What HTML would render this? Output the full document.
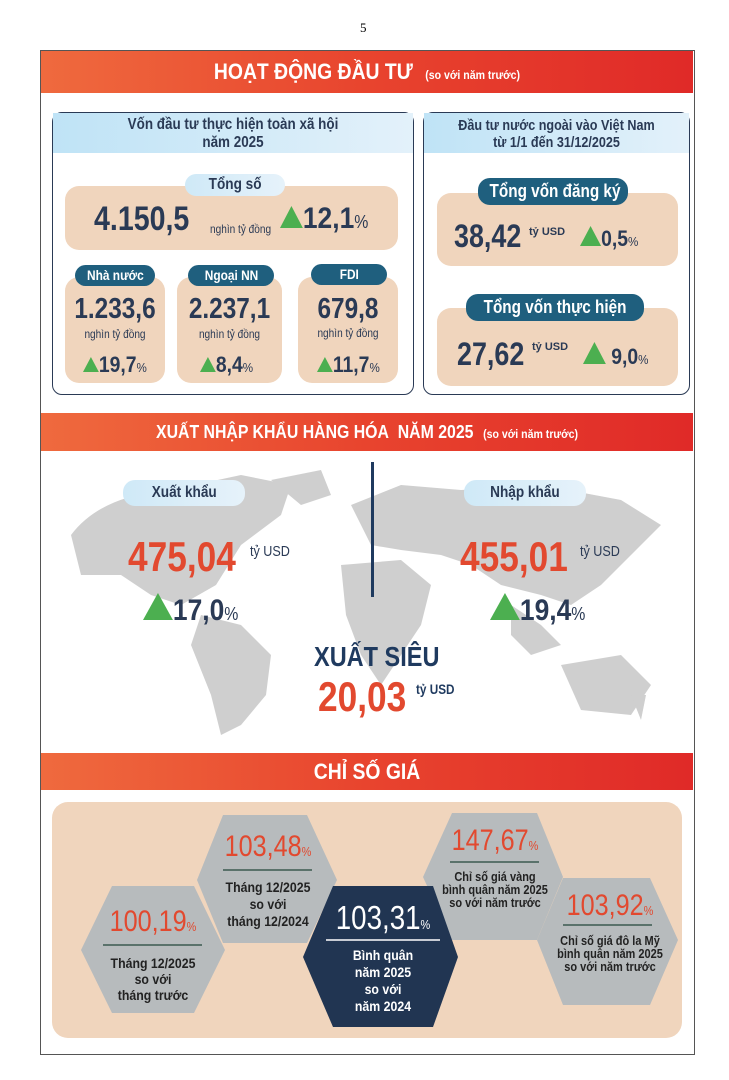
<!DOCTYPE html>
<html><head><meta charset="utf-8"><style>
*{margin:0;padding:0;box-sizing:border-box}
body{width:729px;height:1080px;background:#fff;position:relative;font-family:"Liberation Sans",sans-serif;overflow:hidden}
.a{position:absolute;white-space:nowrap}
.nx{transform:scaleX(.84);transform-origin:left top}
.cx{transform:scaleX(.84);transform-origin:center top}
.ban{position:absolute;left:41px;width:652px;background:linear-gradient(90deg,#ef6a3e,#e8442e 50%,#e02a28);color:#fff;font-weight:bold;text-align:center}
.ban>div{transform:scaleX(.88)}
.tan{position:absolute;background:#f0d5bd;border-radius:14px}
.pill{position:absolute;border-radius:12px;text-align:center;font-weight:bold;white-space:nowrap}
.pill span{display:inline-block;transform:scaleX(.85)}
.navy{background:#1f5f7e;color:#fff}
.lb{background:linear-gradient(90deg,#cfe9f7,#e6f2fa);color:#2a3a55}
.num{position:absolute;color:#2a3a55;font-weight:bold;white-space:nowrap}
.sm{position:absolute;color:#2a3a55;font-size:11px;white-space:nowrap}
.tri{display:inline-block;width:0;height:0;border-left:10px solid transparent;border-right:10px solid transparent;border-bottom:17px solid #4caf50;vertical-align:baseline}
.pct{position:absolute;color:#2a3a55;font-weight:bold;white-space:nowrap;transform:scaleX(.88);transform-origin:left top}
.pct small{font-size:60%;font-weight:normal}
.c{text-align:center}
.rv{position:absolute;color:#e2492f;font-size:30px;line-height:30px;text-align:center;white-space:nowrap;transform:scaleX(.84);transform-origin:center top}
.rv small{font-size:13px}
.lt{position:absolute;color:#222;font-weight:bold;text-align:center;font-size:14px;line-height:17px;white-space:nowrap;transform:scaleX(.88);transform-origin:center top}
.lt2{font-size:12.5px;line-height:13px}
</style></head><body>
<div class="a" style="left:360px;top:20px;font-family:'Liberation Serif',serif;font-size:13px">5</div>
<div class="a" style="left:40px;top:50px;width:655px;height:1005px;border:1.5px solid #555"></div>

<div class="ban" style="top:51px;height:42px;line-height:42px;font-size:22px"><div>HOẠT ĐỘNG ĐẦU TƯ <span style="font-size:12px;margin-left:8px">(so với năm trước)</span></div></div>

<div class="a" style="left:52px;top:112px;width:362px;height:283px;border:1.5px solid #2a3a55;border-radius:10px"></div>
<div class="a lb c" style="left:53px;top:113px;width:360px;height:40px;font-size:16px;line-height:18px;padding-top:3px;font-weight:bold;background:linear-gradient(90deg,#bfe3f6,#e3f1fa)"><div class="cx">Vốn đầu tư thực hiện toàn xã hội<br>năm 2025</div></div>
<div class="tan" style="left:65px;top:186px;width:333px;height:64px"></div>
<div class="pill lb" style="left:185px;top:174px;width:100px;height:22px;line-height:22px;font-size:16px"><span>Tổng số</span></div>
<div class="num nx" style="left:94px;top:200px;font-size:34px">4.150,5</div>
<div class="sm nx" style="left:210px;top:222px;font-size:12px">nghìn tỷ đồng</div>
<div class="pct" style="left:280px;top:202px;font-size:30px"><span class="tri" style="border-left-width:13px;border-right-width:13px;border-bottom-width:22px"></span>12,1<small>%</small></div>

<div class="tan" style="left:65px;top:277px;width:100px;height:106px"></div>
<div class="tan" style="left:177px;top:277px;width:105px;height:106px"></div>
<div class="tan" style="left:298px;top:277px;width:100px;height:106px"></div>
<div class="pill navy" style="left:75px;top:265px;width:80px;height:21px;line-height:21px;font-size:14px"><span>Nhà nước</span></div>
<div class="pill navy" style="left:188px;top:265px;width:86px;height:21px;line-height:21px;font-size:14px"><span>Ngoại NN</span></div>
<div class="pill navy" style="left:311px;top:264px;width:76px;height:21px;line-height:21px;font-size:14px"><span>FDI</span></div>
<div class="num c cx" style="left:65px;top:293px;width:100px;font-size:29px">1.233,6</div>
<div class="num c cx" style="left:177px;top:293px;width:105px;font-size:29px">2.237,1</div>
<div class="num c cx" style="left:298px;top:293px;width:100px;font-size:29px">679,8</div>
<div class="sm c cx" style="left:65px;top:327px;width:100px;font-size:12px">nghìn tỷ đồng</div>
<div class="sm c cx" style="left:177px;top:327px;width:105px;font-size:12px">nghìn tỷ đồng</div>
<div class="sm c cx" style="left:298px;top:326px;width:100px;font-size:12px">nghìn tỷ đồng</div>
<div class="pct" style="left:83px;top:352px;font-size:22px"><span class="tri" style="border-bottom-width:15px;border-left-width:9px;border-right-width:9px"></span>19,7<small>%</small></div>
<div class="pct" style="left:200px;top:352px;font-size:22px"><span class="tri" style="border-bottom-width:15px;border-left-width:9px;border-right-width:9px"></span>8,4<small>%</small></div>
<div class="pct" style="left:317px;top:352px;font-size:22px"><span class="tri" style="border-bottom-width:15px;border-left-width:9px;border-right-width:9px"></span>11,7<small>%</small></div>

<div class="a" style="left:423px;top:112px;width:267px;height:283px;border:1.5px solid #2a3a55;border-radius:10px"></div>
<div class="a lb c" style="left:424px;top:113px;width:265px;height:40px;font-size:15px;line-height:17px;padding-top:4px;font-weight:bold;background:linear-gradient(90deg,#bfe3f6,#e3f1fa)"><div class="cx">Đầu tư nước ngoài vào Việt Nam<br>từ 1/1 đến 31/12/2025</div></div>
<div class="tan" style="left:437px;top:193px;width:241px;height:73px"></div>
<div class="pill navy" style="left:478px;top:178px;width:150px;height:27px;line-height:27px;font-size:18px"><span>Tổng vốn đăng ký</span></div>
<div class="num nx" style="left:454px;top:218px;font-size:32px">38,42</div>
<div class="a" style="left:529px;top:226px;font-size:11px;font-weight:bold;color:#2a3a55">tỷ USD</div>
<div class="pct" style="left:580px;top:226px;font-size:22px"><span class="tri" style="border-bottom-width:20px;border-left-width:12px;border-right-width:12px"></span>0,5<small>%</small></div>
<div class="tan" style="left:437px;top:308px;width:241px;height:78px"></div>
<div class="pill navy" style="left:466px;top:294px;width:178px;height:27px;line-height:27px;font-size:18px"><span>Tổng vốn thực hiện</span></div>
<div class="num nx" style="left:457px;top:336px;font-size:32px">27,62</div>
<div class="a" style="left:532px;top:341px;font-size:11px;font-weight:bold;color:#2a3a55">tỷ USD</div>
<div class="pct" style="left:583px;top:342px;font-size:22px"><span class="tri" style="border-bottom-width:22px;border-left-width:13px;border-right-width:13px"></span> 9,0<small>%</small></div>

<div class="ban" style="top:413px;height:38px;line-height:38px;font-size:18px"><div>XUẤT NHẬP KHẨU HÀNG HÓA&nbsp; NĂM 2025 <span style="font-size:12px;margin-left:6px">(so với năm trước)</span></div></div>
<svg class="a" style="left:41px;top:455px" width="652" height="290">
<g fill="#cfcfcf">
<path d="M30 80 Q60 40 130 35 L200 20 L250 30 L240 60 L200 90 L175 130 L140 150 L110 140 L80 120 L40 120 Z"/>
<path d="M160 160 L200 170 L230 200 L225 240 L200 270 L180 280 L170 240 L150 190 Z"/>
<path d="M230 25 L280 15 L290 40 L260 50 Z"/>
<path d="M310 50 L360 30 L420 35 L500 30 L580 45 L620 70 L590 100 L560 130 L530 150 L500 140 L460 130 L430 110 L400 100 L360 95 L330 90 Z"/>
<path d="M300 110 L360 105 L390 130 L380 170 L360 200 L340 230 L320 200 L305 160 Z"/>
<path d="M470 150 L500 170 L520 190 L490 200 L470 180 Z"/>
<path d="M520 210 L580 200 L610 230 L590 260 L540 255 Z"/>
<path d="M590 240 L605 240 L600 265 Z"/>
</g>
<rect x="330" y="7" width="3" height="135" fill="#1f3a5f"/>
</svg>
<div class="pill lb" style="left:123px;top:480px;width:122px;height:26px;line-height:26px;font-size:16px"><span>Xuất khẩu</span></div>
<div class="pill lb" style="left:464px;top:480px;width:122px;height:26px;line-height:26px;font-size:16px"><span>Nhập khẩu</span></div>
<div class="a nx" style="left:128px;top:533px;font-size:42px;font-weight:bold;color:#e2492f">475,04</div>
<div class="a nx" style="left:250px;top:543px;font-size:15px;color:#2a3a55">tỷ USD</div>
<div class="pct" style="left:143px;top:593px;font-size:30px"><span class="tri" style="border-bottom-width:27px;border-left-width:17px;border-right-width:17px"></span>17,0<small>%</small></div>
<div class="a nx" style="left:460px;top:533px;font-size:42px;font-weight:bold;color:#e2492f">455,01</div>
<div class="a nx" style="left:580px;top:543px;font-size:15px;color:#2a3a55">tỷ USD</div>
<div class="pct" style="left:490px;top:593px;font-size:30px"><span class="tri" style="border-bottom-width:27px;border-left-width:17px;border-right-width:17px"></span>19,4<small>%</small></div>
<div class="a nx" style="left:314px;top:641px;font-size:28px;font-weight:bold;color:#1f3a5f">XUẤT SIÊU</div>
<div class="a nx" style="left:318px;top:673px;font-size:42px;font-weight:bold;color:#e2492f">20,03</div>
<div class="a nx" style="left:416px;top:681px;font-size:14px;font-weight:bold;color:#1f3a5f">tỷ USD</div>

<div class="ban" style="top:753px;height:37px;line-height:37px;font-size:22px"><div>CHỈ SỐ GIÁ</div></div>
<div class="tan" style="left:52px;top:802px;width:630px;height:236px;border-radius:16px"></div>
<svg class="a" style="left:0;top:0" width="729" height="1080">
<g fill="#b7bbbd">
<polygon points="81,950 112,886 194,886 225,950 194,1013 112,1013"/>
<polygon points="197,880 223,815 307,815 337,880 307,943 223,943"/>
<polygon points="423,877 452,813 537,813 563,877 537,940 452,940"/>
<polygon points="537,940 563,878 650,878 678,940 650,1005 563,1005"/>
</g>
<polygon points="303,957 333,886 433,886 458,957 433,1027 333,1027" fill="#213552"/>
<g stroke="#3c5a50" stroke-width="1.5"><line x1="103" y1="945" x2="202" y2="945"/><line x1="223" y1="870" x2="312" y2="870"/><line x1="450" y1="862" x2="539" y2="862"/><line x1="563" y1="925" x2="652" y2="925"/></g>
<line x1="326" y1="940" x2="440" y2="940" stroke="#fff" stroke-width="1.5"/>
</svg>
<div class="rv" style="left:93px;top:907px;width:120px">100,19<small>%</small></div>
<div class="lt" style="left:93px;top:955px;width:120px;line-height:16px">Tháng 12/2025<br>so với<br>tháng trước</div>
<div class="rv" style="left:203px;top:832px;width:130px">103,48<small>%</small></div>
<div class="lt" style="left:203px;top:879px;width:130px;line-height:17px">Tháng 12/2025<br>so với<br>tháng 12/2024</div>
<div class="rv" style="left:318px;top:901px;width:130px;color:#fff;font-size:33px;line-height:33px">103,31<small>%</small></div>
<div class="lt" style="left:318px;top:947px;width:130px;color:#fff">Bình quân<br>năm 2025<br>so với<br>năm 2024</div>
<div class="rv" style="left:430px;top:826px;width:130px">147,67<small>%</small></div>
<div class="lt lt2" style="left:430px;top:871px;width:130px">Chỉ số giá vàng<br>bình quân năm 2025<br>so với năm trước</div>
<div class="rv" style="left:545px;top:891px;width:130px">103,92<small>%</small></div>
<div class="lt lt2" style="left:545px;top:935px;width:130px">Chỉ số giá đô la Mỹ<br>bình quân năm 2025<br>so với năm trước</div>
</body></html>
